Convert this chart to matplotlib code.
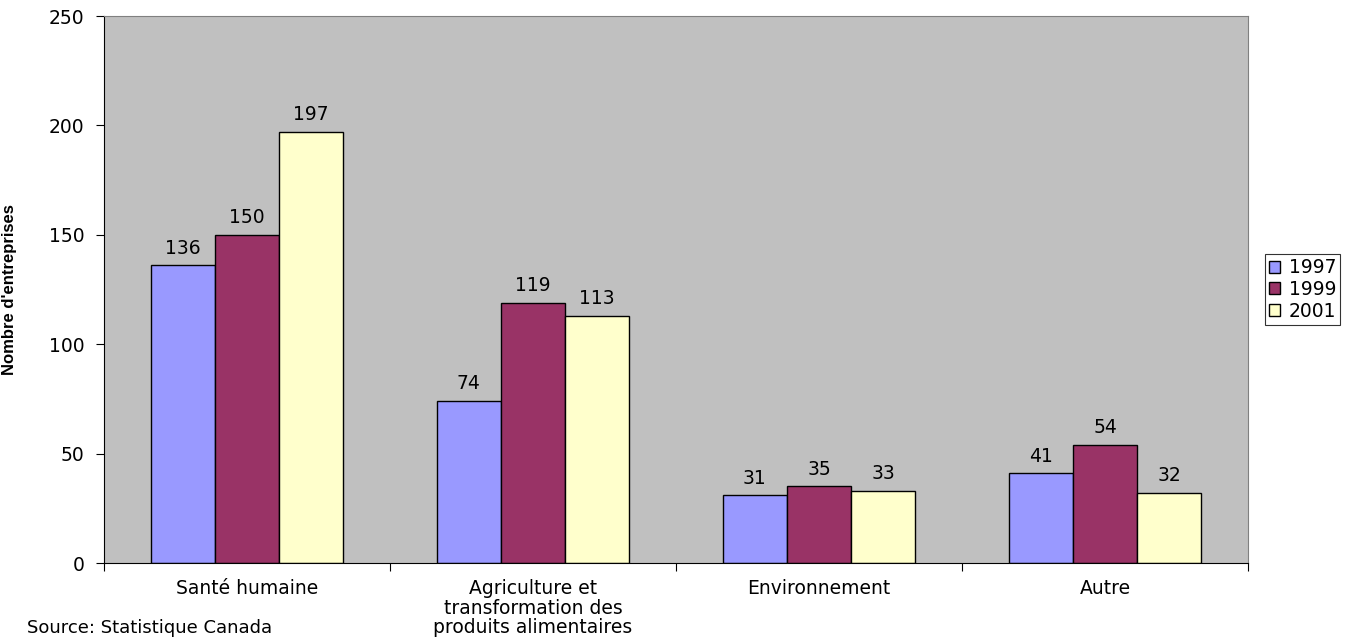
import numpy as np
import matplotlib.pyplot as plt

plt.rcParams['font.family'] = ['DejaVu Sans']

categories = ["Santé humaine", "Agriculture et\ntransformation des\nproduits alimentaires",
              "Environnement", "Autre"]
years = ["1997", "1999", "2001"]
v1997 = [136, 74, 31, 41]
v1999 = [150, 119, 35, 54]
v2001 = [197, 113, 33, 32]
colors = ["#9999FF", "#993366", "#FFFFCC"]

fs = 13.5

fig = plt.figure(figsize=(13.57, 6.4), dpi=100)
ax = fig.add_axes([0.0766, 0.1203, 0.9197 - 0.0766, 0.975 - 0.1203])
ax.set_facecolor("#C0C0C0")

x = np.arange(len(categories))
w = 0.224
for i, (vals, c, yr) in enumerate(zip([v1997, v1999, v2001], colors, years)):
    bars = ax.bar(x + (i - 1) * w, vals, w, color=c, edgecolor="black",
                  linewidth=1.0, label=yr)
    for b, v in zip(bars, vals):
        ax.text(b.get_x() + b.get_width() / 2, v + 3.5, str(v),
                ha="center", va="bottom", fontsize=fs)

ax.set_xlim(-0.5, len(categories) - 0.5)
ax.set_ylim(0, 250)
ax.set_yticks([0, 50, 100, 150, 200, 250])
ax.tick_params(axis="y", labelsize=fs, direction="out", length=6, pad=8)

# separateurs de categories sur l'axe x
ax.set_xticks(np.arange(-0.5, len(categories)))
ax.set_xticklabels([])
ax.tick_params(axis="x", direction="out", length=6)
for xi, lab in zip(x, categories):
    ax.text(xi, -7.5, lab, ha="center", va="top", fontsize=fs,
            linespacing=1.02)

ax.spines["top"].set_color("#808080")
ax.spines["right"].set_color("#808080")
ax.spines["left"].set_color("black")
ax.spines["bottom"].set_color("black")

ax.set_ylabel("Nombre d'entreprises", fontsize=12, fontweight="bold",
              family=["Liberation Sans Narrow", "Liberation Sans"])
ax.yaxis.set_label_coords(-0.076, 0.5)

leg = ax.legend(loc="center left", bbox_to_anchor=(1.015, 0.5),
                fontsize=fs, frameon=True, fancybox=False,
                handlelength=0.6, handleheight=0.6, handletextpad=0.45,
                borderpad=0.2, labelspacing=0.15, borderaxespad=0)
leg.get_frame().set_edgecolor("black")
leg.get_frame().set_linewidth(0.8)

fig.text(0.02, 0.004, "Source: Statistique Canada", fontsize=13, ha="left",
         va="bottom")

fig.savefig("out.png", dpi=100)
